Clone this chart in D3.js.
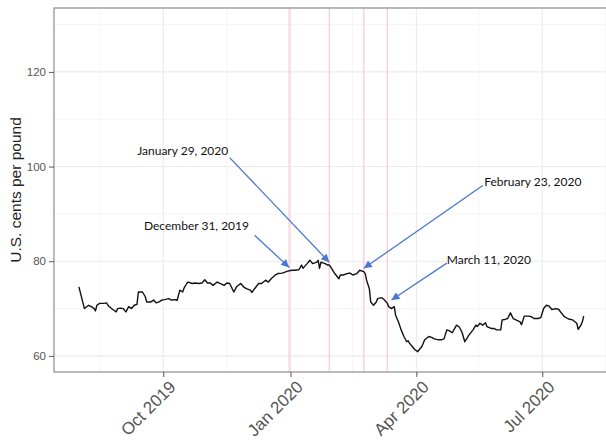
<!DOCTYPE html>
<html>
<head>
<meta charset="utf-8">
<script src="https://cdn.jsdelivr.net/npm/d3@7"></script>
<style>
  body { margin: 0; background: #fff; }
  svg { display: block; }
</style>
</head>
<body>
<div id="chart"></div>
<script>
// price series (U.S. cents per pound)
const dates = [
  "2019-08-01","2019-08-05","2019-08-08","2019-08-10","2019-08-12","2019-08-13","2019-08-14","2019-08-16",
  "2019-08-19","2019-08-21","2019-08-22","2019-08-23","2019-08-26","2019-08-28","2019-08-29","2019-08-31",
  "2019-09-02","2019-09-04","2019-09-06","2019-09-08","2019-09-10","2019-09-12","2019-09-13","2019-09-16",
  "2019-09-18","2019-09-19","2019-09-22","2019-09-24","2019-09-26","2019-09-28","2019-09-30","2019-10-02",
  "2019-10-05","2019-10-07","2019-10-10","2019-10-11","2019-10-12","2019-10-13","2019-10-15","2019-10-16",
  "2019-10-18","2019-10-19","2019-10-22","2019-10-24","2019-10-27","2019-10-29","2019-10-31","2019-11-02",
  "2019-11-04","2019-11-06","2019-11-09","2019-11-11","2019-11-14","2019-11-16","2019-11-18","2019-11-21",
  "2019-11-23","2019-11-26","2019-11-28","2019-11-30","2019-12-03","2019-12-04","2019-12-06","2019-12-09",
  "2019-12-11","2019-12-14","2019-12-16","2019-12-18","2019-12-21","2019-12-23","2019-12-26","2019-12-28",
  "2019-12-30","2020-01-02","2020-01-04","2020-01-07","2020-01-09","2020-01-10","2020-01-13","2020-01-15",
  "2020-01-17","2020-01-20","2020-01-21","2020-01-22","2020-01-23","2020-01-26","2020-01-28","2020-01-29",
  "2020-01-30","2020-02-02","2020-02-05","2020-02-06","2020-02-08","2020-02-11","2020-02-13","2020-02-15",
  "2020-02-18","2020-02-20","2020-02-23","2020-02-24","2020-02-25","2020-02-27","2020-02-28","2020-03-01",
  "2020-03-03","2020-03-04","2020-03-07","2020-03-09","2020-03-11","2020-03-12","2020-03-14","2020-03-16",
  "2020-03-17","2020-03-19","2020-03-21","2020-03-23","2020-03-25","2020-03-26","2020-03-27","2020-03-29",
  "2020-03-31","2020-04-02","2020-04-03","2020-04-05","2020-04-07","2020-04-10","2020-04-12","2020-04-14",
  "2020-04-17","2020-04-19","2020-04-21","2020-04-23","2020-04-25","2020-04-27","2020-04-30","2020-05-02",
  "2020-05-04","2020-05-06","2020-05-09","2020-05-12","2020-05-14","2020-05-15","2020-05-17","2020-05-19",
  "2020-05-21","2020-05-22","2020-05-25","2020-05-27","2020-05-29","2020-06-01","2020-06-02","2020-06-04",
  "2020-06-06","2020-06-08","2020-06-10","2020-06-12","2020-06-15","2020-06-16","2020-06-18","2020-06-21",
  "2020-06-23","2020-06-25","2020-06-28","2020-06-30","2020-07-02","2020-07-04","2020-07-06","2020-07-08",
  "2020-07-11","2020-07-13","2020-07-15","2020-07-17","2020-07-20","2020-07-23","2020-07-26","2020-07-27",
  "2020-07-29","2020-07-30","2020-07-31"
];
const prices = [
  74.6,70.0,70.7,70.4,70.0,69.5,70.7,71.1,
  71.1,71.2,70.7,70.4,69.7,69.3,70.0,70.1,
  70.0,69.3,70.4,70.0,70.7,70.9,73.5,73.5,
  72.5,71.4,71.4,71.8,71.2,71.4,71.8,71.9,
  72.1,71.8,71.9,71.7,72.8,73.9,73.5,74.3,
  75.3,75.6,75.3,75.4,75.3,75.4,76.1,75.4,
  75.4,74.9,75.6,75.3,74.9,75.4,75.3,73.5,
  74.6,75.3,74.6,74.2,73.9,73.4,74.2,75.3,
  75.3,76.0,75.6,76.3,77.1,77.4,77.5,77.7,
  77.9,78.1,78.1,78.2,79.2,78.5,79.5,80.2,
  79.5,79.8,80.2,78.5,79.8,79.5,79.2,79.2,
  78.8,77.4,76.3,77.1,77.1,77.4,77.5,77.1,
  77.4,78.1,77.8,77.4,76.0,74.2,71.4,70.7,
  71.4,72.1,72.3,71.8,71.1,70.4,70.0,70.4,
  68.6,67.2,65.5,64.1,63.0,63.2,62.7,62.0,
  61.3,60.9,61.3,62.0,63.4,64.1,63.9,63.6,
  63.4,63.4,63.6,65.5,65.3,64.9,66.5,66.1,
  65.0,63.0,64.4,65.5,66.5,66.2,66.9,66.5,
  67.0,66.2,65.8,65.8,65.5,65.5,67.6,67.7,
  67.9,69.1,67.9,67.6,67.2,66.6,68.4,68.4,
  68.3,67.9,67.9,68.1,70.0,70.7,70.5,69.8,
  70.0,69.8,69.0,68.3,67.8,67.6,66.9,65.6,
  66.5,67.2,68.4
];

// axes
const yTicks = [60, 80, 100, 120];
const yMinor = [70, 90, 110, 130];
const xTicks = ["2019-10-01", "2020-01-01", "2020-04-01", "2020-07-01"];
const xMinor = ["2019-08-16", "2019-11-16", "2020-02-15", "2020-05-16", "2020-08-16"];

// marked events
const eventDates = ["2019-12-31", "2020-01-29", "2020-02-23", "2020-03-11"];
const eventLabels = ["December 31, 2019", "January 29, 2020", "February 23, 2020", "March 11, 2020"];
// where each label sits and where its arrow runs (in data units)
const labelDates  = ["2019-12-02", "2019-11-17", "2020-05-20", "2020-04-23"];
const labelValues = [87.4, 103.4, 96.8, 80.2];
const labelAnchor = ["end", "end", "start", "start"];
const arrowFromDates  = ["2019-12-06", "2019-11-18", "2020-05-19", "2020-04-23"];
const arrowFromValues = [85.5, 101.9, 96.0, 79.6];
const arrowToDates    = ["2019-12-31", "2020-01-29", "2020-02-23", "2020-03-14"];
const arrowToValues   = [78.7, 79.8, 78.5, 71.8];

const width = 606;
const height = 442;
const parse = d3.timeParse("%Y-%m-%d");

const pLeft = 54, pRight = 610, pTop = 8, pBottom = 372;

const x = d3.scaleTime()
  .domain([parse("2019-07-14"), parse("2020-08-19")])
  .range([pLeft, pRight]);

const y = d3.scaleLinear()
  .domain([56.6, 133.5])
  .range([pBottom, pTop]);

const series = dates.map((d, i) => ({ date: parse(d), value: prices[i] }));

const svg = d3.select("#chart").append("svg")
  .attr("width", width)
  .attr("height", height);

// grid
const grid = svg.append("g");
grid.selectAll(".ymin").data(yMinor).enter().append("line")
  .attr("x1", pLeft).attr("x2", pRight)
  .attr("y1", d => y(d)).attr("y2", d => y(d))
  .attr("stroke", "#f3f3f3").attr("stroke-width", 0.8);
grid.selectAll(".xmin").data(xMinor).enter().append("line")
  .attr("x1", d => x(parse(d))).attr("x2", d => x(parse(d)))
  .attr("y1", pTop).attr("y2", pBottom)
  .attr("stroke", "#f3f3f3").attr("stroke-width", 0.8);
grid.selectAll(".ymaj").data(yTicks).enter().append("line")
  .attr("x1", pLeft).attr("x2", pRight)
  .attr("y1", d => y(d)).attr("y2", d => y(d))
  .attr("stroke", "#ebebeb").attr("stroke-width", 1.1);
grid.selectAll(".xmaj").data(xTicks).enter().append("line")
  .attr("x1", d => x(parse(d))).attr("x2", d => x(parse(d)))
  .attr("y1", pTop).attr("y2", pBottom)
  .attr("stroke", "#ebebeb").attr("stroke-width", 1.1);

// event lines
svg.selectAll(".vline").data(eventDates).enter().append("line")
  .attr("x1", d => x(parse(d))).attr("x2", d => x(parse(d)))
  .attr("y1", pTop).attr("y2", pBottom)
  .attr("stroke", "#f8c6cd").attr("stroke-width", 1.1);

// price line
const line = d3.line()
  .x(d => x(d.date))
  .y(d => y(d.value));

svg.append("path")
  .datum(series)
  .attr("d", line)
  .attr("fill", "none")
  .attr("stroke", "#111")
  .attr("stroke-width", 1.4)
  .attr("stroke-linejoin", "round");

// arrows
svg.append("defs").append("marker")
  .attr("id", "head")
  .attr("viewBox", "0 0 10 10")
  .attr("refX", 10).attr("refY", 5)
  .attr("markerUnits", "userSpaceOnUse")
  .attr("markerWidth", 9).attr("markerHeight", 8)
  .attr("orient", "auto")
  .append("path")
  .attr("d", "M0,0L10,5L0,10z")
  .attr("fill", "#4a78cf");

svg.selectAll(".arrow").data(eventLabels).enter().append("line")
  .attr("x1", (d, i) => x(parse(arrowFromDates[i])))
  .attr("y1", (d, i) => y(arrowFromValues[i]))
  .attr("x2", (d, i) => x(parse(arrowToDates[i])))
  .attr("y2", (d, i) => y(arrowToValues[i]))
  .attr("stroke", "#4a78cf")
  .attr("stroke-width", 1.3)
  .attr("marker-end", "url(#head)");

svg.selectAll(".label").data(eventLabels).enter().append("text")
  .attr("x", (d, i) => x(parse(labelDates[i])))
  .attr("y", (d, i) => y(labelValues[i]))
  .attr("dy", "0.35em")
  .attr("text-anchor", (d, i) => labelAnchor[i])
  .attr("font-family", "Lato, 'Open Sans', sans-serif")
  .attr("font-size", 12)
  .attr("fill", "#111")
  .text(d => d);

// panel border
svg.append("rect")
  .attr("x", pLeft).attr("y", pTop)
  .attr("width", pRight - pLeft).attr("height", pBottom - pTop)
  .attr("fill", "none")
  .attr("stroke", "#8c8c8c")
  .attr("stroke-width", 1.2);

// y axis
const yAxis = svg.append("g")
  .attr("transform", `translate(${pLeft},0)`)
  .call(d3.axisLeft(y).tickValues(yTicks).tickSize(5).tickPadding(3));
yAxis.select(".domain").remove();
yAxis.selectAll("line").attr("stroke", "#555");
yAxis.selectAll("text")
  .attr("fill", "#555")
  .attr("font-family", "'Liberation Sans', Arial, sans-serif")
  .attr("font-size", 11.5);

// x axis
const xAxis = svg.append("g")
  .attr("transform", `translate(0,${pBottom})`)
  .call(d3.axisBottom(x).tickValues(xTicks.map(parse)).tickSize(5).tickFormat(d3.timeFormat("%b %Y")));
xAxis.select(".domain").remove();
xAxis.selectAll("line").attr("stroke", "#555");
xAxis.selectAll("text")
  .attr("fill", "#555")
  .attr("font-family", "'Liberation Sans', Arial, sans-serif")
  .attr("font-size", 17)
  .attr("text-anchor", "end")
  .attr("y", 0)
  .attr("dy", "0.75em")
  .attr("transform", "translate(4,7) rotate(-45)");

// y title
svg.append("text")
  .attr("transform", `translate(16,${(pTop + pBottom) / 2}) rotate(-90)`)
  .attr("text-anchor", "middle")
  .attr("dy", "0.35em")
  .attr("font-family", "'Liberation Sans', Arial, sans-serif")
  .attr("font-size", 15.5)
  .attr("fill", "#222")
  .text("U.S. cents per pound");
</script>
</body>
</html>
